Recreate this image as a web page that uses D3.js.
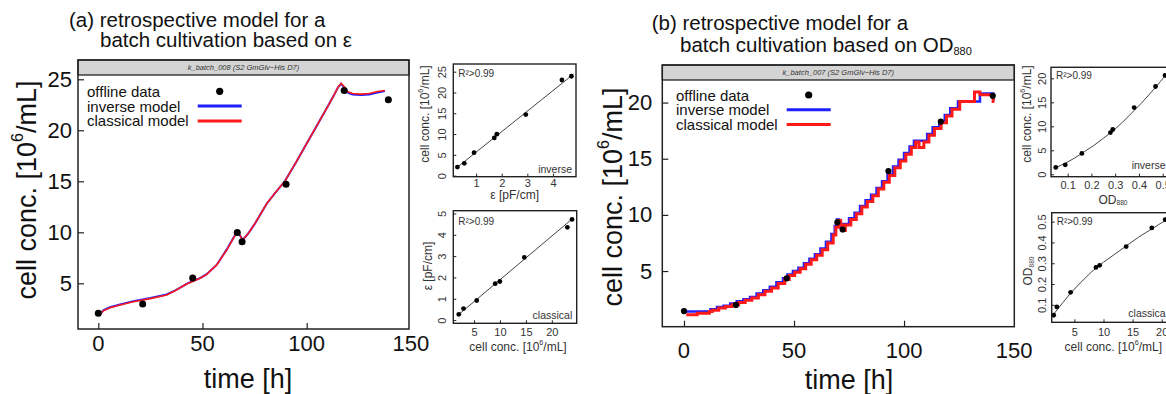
<!DOCTYPE html>
<html lang="en">
<head>
<meta charset="UTF-8">
<title>retrospective models</title>
<script src="https://cdn.jsdelivr.net/npm/d3@7"></script>
<style>
  body { margin: 0; background: #fff; }
  svg { display: block; font-family: "Liberation Sans", Arial, sans-serif; }
  .tick line { stroke: #222; }
</style>
</head>
<body>
<svg id="chart" width="1166" height="394"></svg>
<script>
// ---- (a) batch based on permittivity ----
var aTime = [0, 21.3, 45.3, 66.7, 69, 90.1, 118, 139.2];
var aConc = [2.06, 2.97, 5.52, 9.97, 9.08, 14.7, 23.9, 23.0];
var aEps  = [0.27, 0.54, 0.92, 1.81, 1.71, 2.94, 4.72, 4.35];

var aModelT = [0.5, 2.4, 5.6, 10, 16.8, 25, 32.8, 37, 42.4, 45, 48.8, 52, 56.8, 61.6, 64.8, 66.7, 68, 69.3, 72, 75, 80.8, 85, 89.5, 95, 100, 105, 110, 113, 115, 116.5, 118, 119.5, 122, 126, 130, 134, 137.5];
var aClassical = [1.86, 2.3, 2.6, 2.85, 3.2, 3.5, 3.85, 4.3, 4.93, 5.15, 5.5, 5.87, 6.8, 8.26, 9.4, 10.06, 9.7, 9.24, 9.9, 10.8, 12.8, 13.9, 15.0, 16.9, 18.7, 20.5, 22.3, 23.4, 24.2, 24.6, 24.3, 23.8, 23.6, 23.55, 23.6, 23.8, 23.9];
var aInverse   = [1.9, 2.35, 2.65, 2.9, 3.25, 3.55, 3.9, 4.3, 4.95, 5.2, 5.5, 5.9, 6.8, 8.3, 9.45, 10.1, 9.7, 9.25, 9.9, 10.8, 12.8, 13.9, 15.0, 16.9, 18.7, 20.5, 22.3, 23.4, 24.2, 24.55, 24.2, 23.7, 23.5, 23.45, 23.5, 23.7, 23.85];

var aInvFitX = [0.22, 4.8];   // eps
var aInvFitY = [1.8, 24.4];   // conc
var aClsFitX = [1.7, 24.05];  // conc
var aClsFitY = [0.19, 4.77];  // eps

// ---- (b) batch based on OD880 ----
var bTime = [0, 23.6, 46.7, 69.7, 72.1, 92.9, 116.7, 140.3];
var bConc = [1.44, 1.98, 4.35, 9.34, 8.7, 13.9, 18.3, 20.6];
var bOD   = [0.05, 0.09, 0.16, 0.29, 0.28, 0.38, 0.47, 0.51];

var bInvT = [0, 12, 15, 18, 21, 24, 27, 30, 33, 36, 39, 42, 45, 47, 49.5, 52, 54.5, 57, 59.5, 62, 64.5, 67, 68.5, 69.5, 70.5, 71.5, 72.5, 75, 77.5, 80, 82.5, 85, 87.5, 90, 92.5, 95, 97.5, 100, 102.5, 104.5, 110.5, 113, 116, 118.5, 121, 124.5, 134.5, 140.5, 141];
var bInvV = [1.4, 1.6, 1.8, 1.9, 2.1, 2.3, 2.5, 2.7, 3.0, 3.3, 3.6, 4.0, 4.35, 4.7, 5.0, 5.3, 5.7, 6.1, 6.5, 7.0, 7.6, 8.3, 9.0, 9.6, 9.2, 8.7, 9.2, 9.7, 10.2, 10.8, 11.3, 11.8, 12.4, 13.0, 13.6, 14.3, 14.9, 15.5, 16.1, 16.6, 17.2, 17.8, 18.3, 18.9, 19.5, 20.1, 20.8, 20.2, 20.2];
var bClsT = [1, 6, 11.5, 12.8, 15.8, 18.8, 21.8, 24.8, 27.8, 30.8, 33.8, 36.8, 39.8, 42.8, 45.8, 47.8, 50.3, 52.8, 55.3, 57.8, 60.3, 62.8, 65.3, 67.8, 69.0, 70.2, 71.2, 72.2, 73.3, 75.8, 78.3, 80.8, 83.3, 85.8, 88.3, 90.8, 93.3, 95.8, 98.3, 100.8, 103.3, 105.3, 106.8, 109, 111.3, 113.8, 116.8, 119.3, 121.8, 125.3, 132, 134.5, 140.5, 141];
var bClsV = [1.1, 1.25, 1.4, 1.5, 1.7, 1.85, 2.0, 2.2, 2.4, 2.6, 2.9, 3.2, 3.5, 3.9, 4.25, 4.6, 4.9, 5.2, 5.6, 6.0, 6.4, 6.9, 7.5, 8.2, 8.9, 9.5, 9.1, 8.6, 9.1, 9.6, 10.1, 10.7, 11.2, 11.7, 12.3, 12.9, 13.5, 14.2, 14.8, 15.4, 16.0, 16.5, 16.0, 16.5, 17.1, 17.7, 18.2, 18.8, 19.4, 20.1, 20.95, 20.7, 20.1, 20.1];

var bInvFitX = [0.045, 0.09, 0.13, 0.17, 0.21, 0.25, 0.29, 0.33, 0.37, 0.41, 0.45, 0.49, 0.52, 0.545]; // OD
var bInvFitY = [1.25, 2.3, 3.4, 4.7, 6.0, 7.5, 9.0, 10.8, 12.8, 14.8, 17.0, 19.3, 21.2, 22.3];         // conc
var bClsFitX = [1.3, 2, 3, 4.3, 6, 8, 10, 12, 14, 16, 18, 20, 21.8];                                // conc
var bClsFitY = [0.05, 0.075, 0.11, 0.155, 0.205, 0.26, 0.305, 0.345, 0.385, 0.425, 0.46, 0.495, 0.525]; // OD

var timeTicks = [0, 50, 100, 150];
var legendLabels = ["offline data", "inverse model", "classical model"];

var svg = d3.select("#chart");

function concLabel(sel, size) {
    sel.append("tspan").text("cell conc. [10");
    sel.append("tspan").attr("font-size", size * 0.6).attr("dy", -size * 0.38).text("6");
    sel.append("tspan").attr("dy", size * 0.38).text("/mL]");
}

function odLabel(sel, size) {
    sel.append("tspan").text("OD");
    sel.append("tspan").attr("font-size", size * 0.55).attr("dy", size * 0.2).text("880");
}

function mainPanel(c) {
    var g = svg.append("g");
    var x = d3.scaleLinear().domain(c.xDom).range([c.x0, c.x1]);
    var y = d3.scaleLinear().domain(c.yDom).range([c.y1, c.y0 + c.strip]);

    // strip
    g.append("rect").attr("x", c.x0).attr("y", c.y0)
        .attr("width", c.x1 - c.x0).attr("height", c.strip)
        .attr("fill", "#d4d4d4").attr("stroke", "#222").attr("stroke-width", 1.3);
    g.append("text").attr("x", (c.x0 + c.x1) / 2).attr("y", c.y0 + c.strip / 2)
        .attr("dominant-baseline", "central").attr("text-anchor", "middle")
        .attr("font-size", 7.5).attr("font-style", "italic").attr("fill", "#333")
        .text(c.stripText);

    // axes
    var ax = g.append("g").attr("transform", `translate(0,${c.y1})`)
        .call(d3.axisBottom(x).tickValues(timeTicks.filter(d => x(d) < c.x1 - 2))
            .tickSize(-6).tickPadding(c.xPad).tickFormat(""));
    ax.select(".domain").remove();
    timeTicks.forEach(function(d) {
        g.append("text").attr("x", x(d)).attr("y", c.xLabY)
            .attr("text-anchor", "middle").attr("dominant-baseline", "central")
            .attr("font-size", 22).attr("fill", "#111").text(d);
    });
    var ay = g.append("g").attr("transform", `translate(${c.x0},0)`)
        .call(d3.axisLeft(y).tickValues(c.yTicks).tickSize(-6).tickPadding(c.yPad));
    ay.select(".domain").remove();
    ay.selectAll("text").attr("font-size", 22).attr("fill", "#111").attr("font-family", null);
    ay.selectAll("line").attr("stroke-width", 1.2);
    ax.selectAll("line").attr("stroke-width", 1.2);

    // models
    var clipId = "clip" + c.id;
    svg.append("clipPath").attr("id", clipId).append("rect")
        .attr("x", c.x0).attr("y", c.y0 + c.strip).attr("width", c.x1 - c.x0).attr("height", c.y1 - c.y0 - c.strip);
    var lines = g.append("g").attr("clip-path", `url(#${clipId})`);
    var line = d3.line().x(d => x(d[0])).y(d => y(d[1]));
    if (c.step) line.curve(d3.curveStepAfter);
    lines.append("path").datum(d3.zip(c.invT, c.invV)).attr("d", line)
        .attr("fill", "none").attr("stroke", "#1f1fff").attr("stroke-width", c.lw[0]);
    lines.append("path").datum(d3.zip(c.clsT, c.clsV)).attr("d", line)
        .attr("fill", "none").attr("stroke", "#ff1a1a").attr("stroke-width", c.lw[1]);

    g.selectAll(".pt").data(d3.zip(c.ptT, c.ptV)).enter().append("circle")
        .attr("cx", d => x(d[0])).attr("cy", d => y(d[1])).attr("r", c.r).attr("fill", "#000");

    // box
    g.append("rect").attr("x", c.x0).attr("y", c.y0)
        .attr("width", c.x1 - c.x0).attr("height", c.y1 - c.y0)
        .attr("fill", "none").attr("stroke", "#222").attr("stroke-width", 1.5);

    // legend
    legendLabels.forEach(function(lab, i) {
        var yy = c.legY + i * 14.8;
        g.append("text").attr("x", c.legX).attr("y", yy).attr("dominant-baseline", "central")
            .attr("font-size", 15).attr("fill", "#111").text(lab);
        if (i === 0) {
            g.append("circle").attr("cx", c.legLine[0] + 22).attr("cy", yy).attr("r", 3.6).attr("fill", "#000");
        } else {
            g.append("line").attr("x1", c.legLine[0]).attr("x2", c.legLine[1])
                .attr("y1", yy).attr("y2", yy)
                .attr("stroke", i === 1 ? "#1f1fff" : "#ff1a1a").attr("stroke-width", 3);
        }
    });

    // titles
    g.append("text").attr("x", c.title[0]).attr("y", c.title[1])
        .attr("font-size", 20.5).attr("fill", "#111").text(c.title1);
    var t2 = g.append("text").attr("x", c.title[2]).attr("y", c.title[3])
        .attr("font-size", 20.5).attr("fill", "#111");
    c.title2(t2);
    g.append("text").attr("x", c.timeLab[0]).attr("y", c.timeLab[1])
        .attr("text-anchor", "middle").attr("dominant-baseline", "central")
        .attr("font-size", 27).attr("fill", "#111").text("time [h]");
    var yl = g.append("text")
        .attr("transform", `translate(${c.concLab[0]},${c.concLab[1]}) rotate(-90)`)
        .attr("text-anchor", "middle").attr("dominant-baseline", "central")
        .attr("font-size", 27).attr("fill", "#111");
    concLabel(yl, 27);
}

function inset(c) {
    var g = svg.append("g");
    var x = d3.scaleLinear().domain(c.xDom).range([c.x0, c.x1]);
    var y = d3.scaleLinear().domain(c.yDom).range([c.y1, c.y0]);

    g.append("path").datum(d3.zip(c.fitX, c.fitY))
        .attr("d", d3.line().x(d => x(d[0])).y(d => y(d[1])))
        .attr("fill", "none").attr("stroke", "#444").attr("stroke-width", 1);
    g.selectAll(".ip").data(d3.zip(c.ptX, c.ptY)).enter().append("circle")
        .attr("cx", d => x(d[0])).attr("cy", d => y(d[1])).attr("r", 2.4).attr("fill", "#000");

    var ax = g.append("g").attr("transform", `translate(0,${c.y1})`)
        .call(d3.axisBottom(x).tickValues(c.xTicks).tickSize(-3).tickPadding(c.xPad)
            .tickFormat(c.xFmt || (d => d)));
    ax.select(".domain").remove();
    ax.selectAll("text").attr("font-size", 11).attr("fill", "#333");

    var ay = g.append("g").attr("transform", `translate(${c.x0},0)`)
        .call(d3.axisLeft(y).tickValues(c.yTicks).tickSize(-3).tickFormat(c.yFmt || (d => d)));
    ay.select(".domain").remove();
    ay.selectAll("text")
        .attr("x", null).attr("dy", null)
        .attr("transform", `translate(${-c.yPad},0) rotate(-90)`)
        .attr("text-anchor", "middle").attr("font-size", 11).attr("fill", "#333");

    g.append("rect").attr("x", c.x0).attr("y", c.y0)
        .attr("width", c.x1 - c.x0).attr("height", c.y1 - c.y0)
        .attr("fill", "none").attr("stroke", "#222").attr("stroke-width", 1.4);

    g.append("text").attr("x", c.x0 + 5).attr("y", c.r2Y).attr("dominant-baseline", "central")
        .attr("font-size", 10).attr("fill", "#333").text("R²>0.99");
    g.append("text").attr("x", c.tag[0]).attr("y", c.tag[1]).attr("dominant-baseline", "central")
        .attr("text-anchor", c.tag[2]).attr("font-size", 10.5).attr("fill", "#333").text(c.tagText);

    var xt = g.append("text").attr("x", c.xLab[0]).attr("y", c.xLab[1])
        .attr("text-anchor", "middle").attr("dominant-baseline", "central")
        .attr("font-size", 12).attr("fill", "#333");
    c.xTitle(xt, 12);
    var yt = g.append("text").attr("transform", `translate(${c.yLab[0]},${c.yLab[1]}) rotate(-90)`)
        .attr("text-anchor", "middle").attr("dominant-baseline", "central")
        .attr("font-size", 12).attr("fill", "#333");
    c.yTitle(yt, 12);
}

var epsTitle = (s) => s.text("\u03b5 [pF/cm]");

mainPanel({
    id: "a", x0: 78, x1: 409, y0: 60, strip: 15, y1: 329,
    xDom: [-9.74, 149.1], yDom: [0.52, 25.42], yTicks: [5, 10, 15, 20, 25],
    xPad: 6, yPad: 6, xLabY: 343.5, lw: [2, 1.6], step: false, r: 3.5,
    stripText: "k_batch_008 (S2 GmGlv\u2212His D7)",
    invT: aModelT, invV: aInverse, clsT: aModelT, clsV: aClassical,
    ptT: aTime, ptV: aConc,
    legX: 87, legY: 91.3, legLine: [197.7, 241.7],
    title: [69, 27, 100, 46.5],
    title1: "(a) retrospective model for a",
    title2: s => s.text("batch cultivation based on \u03b5"),
    timeLab: [248, 379], concLab: [27, 190]
});

mainPanel({
    id: "b", x0: 662.3, x1: 1014.3, y0: 65, strip: 15, y1: 326.7,
    xDom: [-9.86, 150.1], yDom: [0.045, 22.01], yTicks: [5, 10, 15, 20],
    xPad: 6, yPad: 10, xLabY: 350, lw: [2.5, 3], step: true, r: 3.1,
    stripText: "k_batch_007 (S2 GmGlv\u2212His D7)",
    invT: bInvT, invV: bInvV, clsT: bClsT, clsV: bClsV,
    ptT: bTime, ptV: bConc,
    legX: 676, legY: 95, legLine: [786.7, 830.7],
    title: [651.7, 29.5, 680, 51.5],
    title1: "(b) retrospective model for a",
    title2: function(s) {
        s.append("tspan").text("batch cultivation based on OD");
        s.append("tspan").attr("font-size", 11).attr("dy", 3).text("880");
    },
    timeLab: [849, 380], concLab: [613, 197]
});

inset({
    x0: 453.3, x1: 576, y0: 64, y1: 176.7,
    xDom: [0.11, 4.9], yDom: [-0.25, 26.85],
    xTicks: [1, 2, 3, 4], yTicks: [0, 5, 10, 15, 20, 25], xPad: 2.5, yPad: 7.7,
    fitX: aInvFitX, fitY: aInvFitY, ptX: aEps, ptY: aConc,
    r2Y: 73.3, tag: [572, 169, "end"], tagText: "inverse",
    xLab: [514.7, 195], xTitle: epsTitle, yLab: [425, 114], yTitle: concLabel
});

inset({
    x0: 453.3, x1: 576.7, y0: 210.7, y1: 323.3,
    xDom: [1.0, 24.8], yDom: [-0.15, 5.13],
    xTicks: [5, 10, 15, 20], yTicks: [0, 1, 2, 3, 4, 5], xPad: 5, yPad: 7.7,
    fitX: aClsFitX, fitY: aClsFitY, ptX: aConc, ptY: aEps,
    r2Y: 221.7, tag: [572.3, 315, "end"], tagText: "classical",
    xLab: [518, 346.7], xTitle: concLabel, yLab: [428, 266], yTitle: epsTitle
});

inset({
    x0: 1051, x1: 1178, y0: 67.3, y1: 176.7,
    xDom: [0.03, 0.5645], yDom: [-0.5, 22.3],
    xTicks: [0.1, 0.2, 0.3, 0.4, 0.5], yTicks: [0, 5, 10, 15, 20], xPad: 5, yPad: 5.4,
    xFmt: d3.format(".1f"),
    fitX: bInvFitX, fitY: bInvFitY, ptX: bOD, ptY: bConc,
    r2Y: 75, tag: [1131.7, 165, "start"], tagText: "inverse",
    xLab: [1113, 200], xTitle: odLabel, yLab: [1026.7, 114], yTitle: concLabel
});

inset({
    x0: 1051.7, x1: 1178, y0: 212.7, y1: 322.3,
    xDom: [1.1, 22.8], yDom: [0.016, 0.543],
    xTicks: [5, 10, 15, 20], yTicks: [0.1, 0.2, 0.3, 0.4, 0.5], xPad: 6, yPad: 5.4,
    yFmt: d3.format(".1f"),
    fitX: bClsFitX, fitY: bClsFitY, ptX: bConc, ptY: bOD,
    r2Y: 221.7, tag: [1128.3, 312.7, "start"], tagText: "classical",
    xLab: [1113.3, 346.7], xTitle: concLabel, yLab: [1028.3, 271], yTitle: odLabel
});
</script>
</body>
</html>
